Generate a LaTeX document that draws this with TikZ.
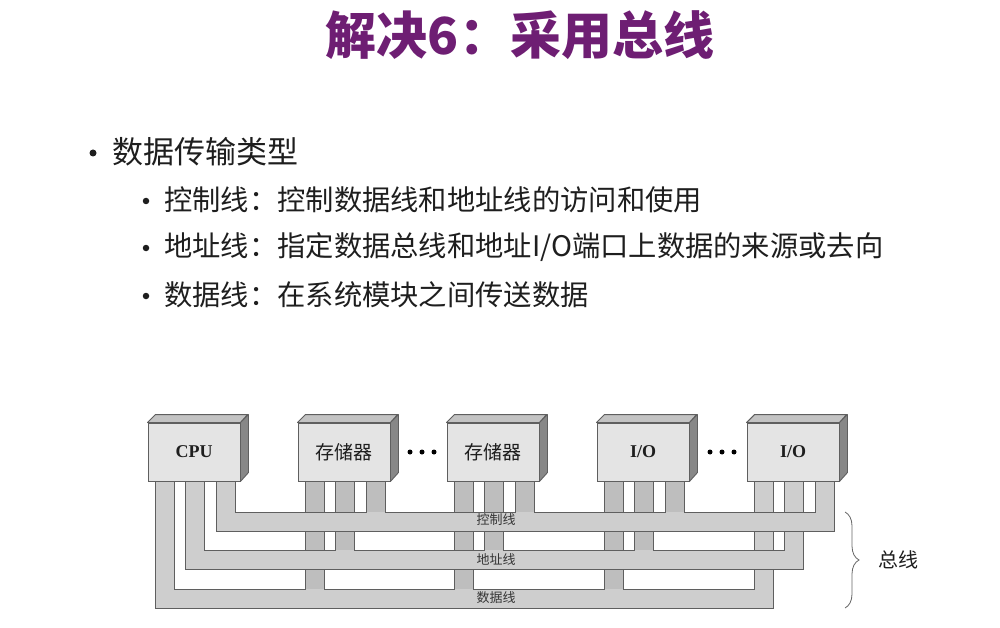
\documentclass[tikz,border=0pt]{standalone}
\usepackage{fontspec}
\setmainfont{Liberation Serif}
\newfontfamily\cjk{Noto Sans CJK SC}
\usetikzlibrary{decorations.pathreplacing}
\definecolor{titlepurple}{RGB}{110,30,115}
\definecolor{txt}{RGB}{30,30,30}
\definecolor{boxfront}{RGB}{228,228,228}
\definecolor{boxtop}{RGB}{195,195,195}
\definecolor{boxside}{RGB}{135,135,135}
\definecolor{bandfill}{RGB}{206,206,206}
\definecolor{legfill}{RGB}{190,190,190}
\definecolor{outl}{RGB}{95,95,95}
\tikzset{
  module/.style={draw=outl, line width=0.9pt, fill=boxfront, minimum width=92, minimum height=58, inner sep=0pt, text=txt},
  bulletdot/.style={circle, fill=txt, inner sep=0pt},
  bustext/.style={font=\cjk\fontsize{13}{14}\selectfont, text=txt!90, inner sep=0pt},
  dotsep/.style={circle, fill=black, inner sep=0pt, minimum size=5},
}
\newcommand\mybus[4]{%
  \fill[bandfill] (148+#1,478) -- (148+#1,#4) -- (747+#2,#4) -- (747+#2,478) -- (747+#1,478) -- (747+#1,#3)
    \foreach \L in {597,447,298}{ -- (\L+#2,#3) -- (\L+#2,478) -- (\L+#1,478) -- (\L+#1,#3)} -- (148+#2,#3) -- (148+#2,478) -- cycle;
  \foreach \L in {597,447,298}{\fill[legfill] (\L+#1,478) rectangle (\L+#2,#3);}
  \draw[outl, line width=0.9pt, line join=miter] (148+#1,478) -- (148+#1,#4) -- (747+#2,#4) -- (747+#2,478) -- (747+#1,478) -- (747+#1,#3)
    \foreach \L in {597,447,298}{ -- (\L+#2,#3) -- (\L+#2,478) -- (\L+#1,478) -- (\L+#1,#3)} -- (148+#2,#3) -- (148+#2,478) -- cycle;
}
\begin{document}
\begin{tikzpicture}[x=1pt,y=-1pt]
\useasboundingbox (0,0) rectangle (1000,628);
\fill[white] (0,0) rectangle (1000,628);

% title
\node[font=\cjk\bfseries\fontsize{51}{54}\selectfont, text=titlepurple] (title) at (520,35) {解决6：采用总线};

% bullets
\node[bulletdot, minimum size=7] (d0) at (93,153) {};
\node[anchor=west, font=\cjk\fontsize{31}{34}\selectfont, text=txt, inner sep=0pt] (t0) at (112,152) {数据传输类型};
\node[bulletdot, minimum size=6.5] (d1) at (146,201) {};
\node[anchor=west, font=\cjk\fontsize{28.3}{30}\selectfont, text=txt, inner sep=0pt] (t1) at (164,200) {控制线：控制数据线和地址线的访问和使用};
\node[bulletdot, minimum size=6.5] (d2) at (146,248) {};
\node[anchor=west, font=\cjk\fontsize{28.3}{30}\selectfont, text=txt, inner sep=0pt] (t2) at (164,247) {地址线：指定数据总线和地址I/O端口上数据的来源或去向};
\node[bulletdot, minimum size=6.5] (d3) at (146,296) {};
\node[anchor=west, font=\cjk\fontsize{28.3}{30}\selectfont, text=txt, inner sep=0pt] (t3) at (164,295) {数据线：在系统模块之间传送数据};

% buses: data, address, control
\mybus{7}{26}{589}{608}
\mybus{37}{56}{550}{569}
\mybus{68}{87}{512}{531}

\node[bustext] (lc) at (496,520) {控制线};
\node[bustext] (la) at (496,560) {地址线};
\node[bustext] (ld) at (496,598) {数据线};

% modules
\node[module, font=\bfseries\fontsize{18}{20}\selectfont] (cpu) at (194,452) {CPU};
\node[module, font=\cjk\fontsize{19}{21}\selectfont] (m1) at (344,452) {存储器};
\node[module, font=\cjk\fontsize{19}{21}\selectfont] (m2) at (493,452) {存储器};
\node[module, font=\bfseries\fontsize{18}{20}\selectfont] (io1) at (643,452) {I/O};
\node[module, font=\bfseries\fontsize{18}{20}\selectfont] (io2) at (793,452) {I/O};
\foreach \n in {cpu,m1,m2,io1,io2}{
  \filldraw[fill=boxtop, draw=outl, line width=0.9pt, line join=round] (\n.north west) -- ++(8,-8) -- ++(92,0) -- (\n.north east) -- cycle;
  \filldraw[fill=boxside, draw=outl, line width=0.9pt, line join=round] (\n.north east) -- ++(8,-8) -- ++(0,58) -- (\n.south east) -- cycle;
}

% dots
\foreach \x [count=\i] in {410,422,434}{\node[dotsep] (da\i) at (\x,452) {};}
\foreach \x [count=\i] in {710,722,734}{\node[dotsep] (db\i) at (\x,452) {};}

% brace
\coordinate (bt) at (845,512);
\coordinate (bb) at (845,608);
\draw[decorate, decoration={brace, amplitude=14pt}, draw=black!60, line width=0.8pt] (bt) -- (bb);
\node[font=\cjk\fontsize{20}{22}\selectfont, text=txt] (bus) at (898,560) {总线};
\end{tikzpicture}
\end{document}
